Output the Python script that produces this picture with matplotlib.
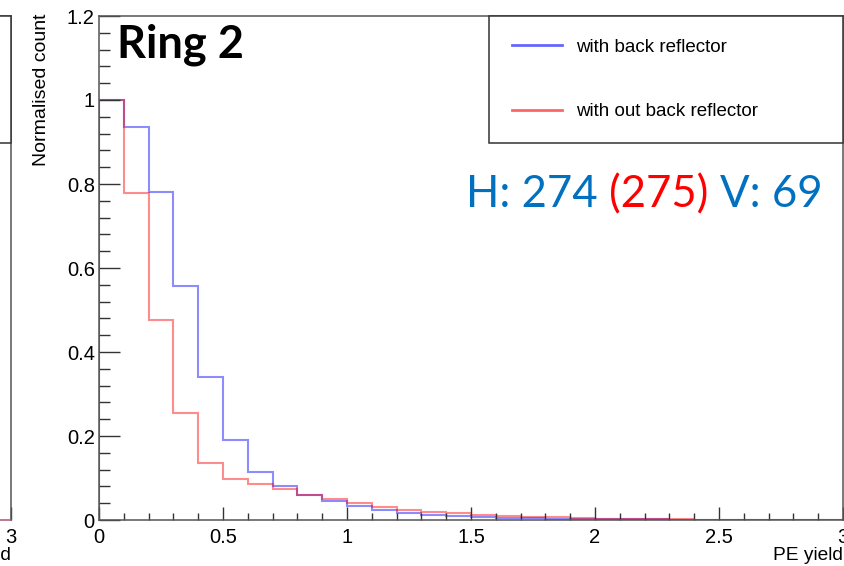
import numpy as np
import matplotlib
matplotlib.use('Agg')
import matplotlib.pyplot as plt
from matplotlib.ticker import MultipleLocator, FormatStrFormatter

# histogram contents, 30 bins of 0.1 PE from 0 to 3
bin_edges = np.round(np.arange(0, 3.01, 0.1), 2)
with_reflector = [1.0, 0.936, 0.780, 0.556, 0.340, 0.190, 0.114, 0.082, 0.060, 0.046,
                  0.034, 0.025, 0.017, 0.012, 0.0095, 0.007, 0.005, 0.004, 0.003, 0.0025,
                  0.002, 0.0015, 0.0012, 0.001, 0.0008, 0.0006, 0.0005, 0.0004, 0.0003, 0.001]
without_reflector = [1.0, 0.778, 0.477, 0.254, 0.136, 0.097, 0.086, 0.075, 0.060, 0.049,
                     0.040, 0.030, 0.025, 0.018, 0.016, 0.013, 0.009, 0.007, 0.006, 0.005,
                     0.003, 0.002, 0.002, 0.0015, 0.001, 0.001, 0.0008, 0.0005, 0.0003, 0.0]
labels = ['with back reflector', 'with out back reflector']
title = 'Ring 2'
h_txt, h_alt, v_txt = 'H: 274', '(275)', 'V: 69'

plt.rcParams['font.family'] = ['Liberation Sans', 'DejaVu Sans']
W, H = 845, 566
fig = plt.figure(figsize=(W / 100, H / 100), dpi=100)

ax_l, ax_r, ax_t, ax_b = 99, 843, 16, 520
pos = [ax_l / W, (H - ax_b) / H, (ax_r - ax_l) / W, (ax_b - ax_t) / H]
ax = fig.add_axes(pos)
# neighbouring panel, mostly cut off on the left
ax0 = fig.add_axes([(11 - (ax_r - ax_l)) / W, pos[1], pos[2], pos[3]])

frame = '#555555'


def style(a):
    a.set_xlim(0, 3)
    a.set_ylim(0, 1.2)
    a.xaxis.set_major_locator(MultipleLocator(0.5))
    a.xaxis.set_minor_locator(MultipleLocator(0.1))
    a.yaxis.set_major_locator(MultipleLocator(0.2))
    a.yaxis.set_minor_locator(MultipleLocator(0.04))
    a.xaxis.set_major_formatter(FormatStrFormatter('%g'))
    a.yaxis.set_major_formatter(FormatStrFormatter('%g'))
    a.tick_params(which='both', direction='in', colors='#333333', labelcolor='black',
                  labelsize=14.5, width=1.0, top=False, right=False)
    a.tick_params(axis='y', which='major', length=15, pad=3)
    a.tick_params(axis='y', which='minor', length=8)
    a.tick_params(axis='x', which='major', length=9.5, pad=6)
    a.tick_params(axis='x', which='minor', length=5)
    for s in a.spines.values():
        s.set_color(frame)
        s.set_linewidth(1.1)
    a.set_xlabel('PE yield', fontsize=13.8, loc='right')
    a.xaxis.set_label_coords(1.0, -0.053)


style(ax)
style(ax0)
ax0.spines['bottom'].set_color('#b05070')
ax0.set_yticks([])
ax0.set_xticks([3])

ax.stairs(with_reflector, bin_edges, color='blue', alpha=0.45, lw=1.5,
          label=labels[0])
ax.stairs(without_reflector, bin_edges, color='red', alpha=0.45, lw=1.5,
          label=labels[1])

ax.set_ylabel('Normalised count', fontsize=14, loc='top')
ax.yaxis.set_label_coords(-0.066, 1.005)

for a in (ax, ax0):
    h = [plt.Line2D([], [], color='#6666ff', lw=2), plt.Line2D([], [], color='#ff6666', lw=2)]
    a.legend(h, labels, loc='upper left', bbox_to_anchor=(0.524, 0.752, 0.476, 0.248),
             mode='expand', borderaxespad=0, fancybox=False, edgecolor='#333333',
             framealpha=1, fontsize=13.5, handlelength=2.7, handletextpad=0.75,
             labelspacing=2.52, borderpad=1.22).get_frame().set_linewidth(1.1)

ax.text(0.024, 0.985, title, transform=ax.transAxes, fontsize=32.5, fontweight='bold',
        family='Lato', va='top', ha='left')

t1 = ax.text((466 - ax_l) / (ax_r - ax_l), (ax_b - 207) / (ax_b - ax_t), h_txt + ' ',
             transform=ax.transAxes, fontsize=31.5, family='Lato', color='#0070c0',
             va='baseline', ha='left')
t2 = ax.annotate(h_alt + ' ', xy=(1, 0), xycoords=t1, fontsize=31.5, family='Lato',
                 color='#ff0000', va='bottom', ha='left')
ax.annotate(v_txt, xy=(1, 0), xycoords=t2, fontsize=31.5, family='Lato',
            color='#0070c0', va='bottom', ha='left')

fig.savefig('out.png', dpi=100)
